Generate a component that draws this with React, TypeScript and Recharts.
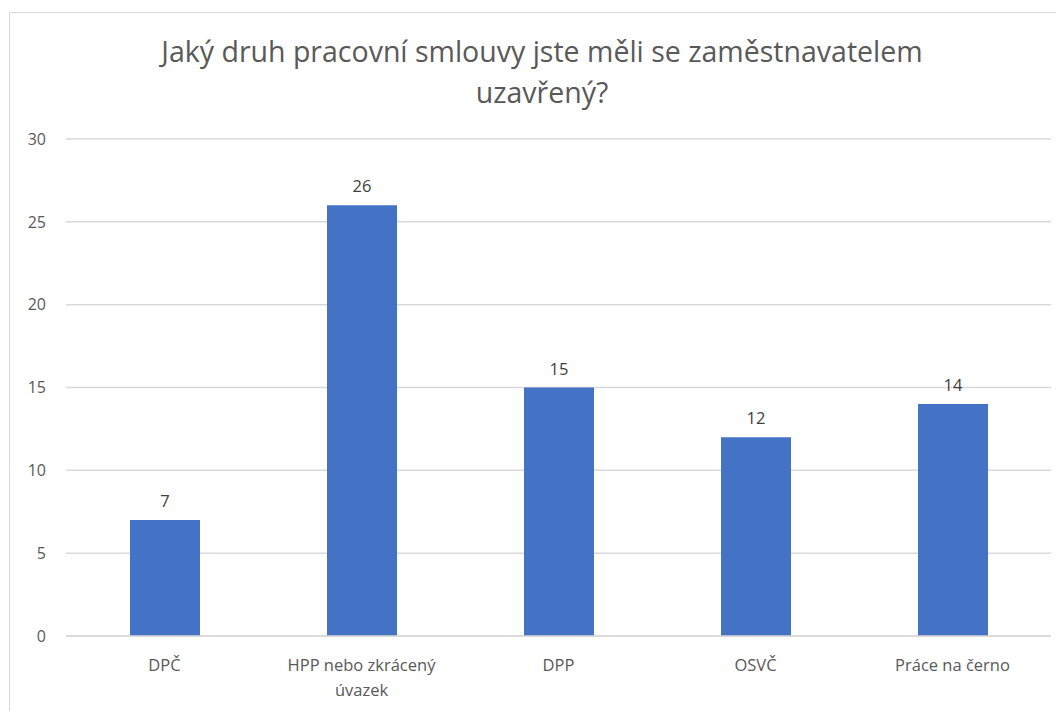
import { BarChart, Bar, XAxis, YAxis, CartesianGrid, LabelList, Text } from 'recharts';

const TITLE_LINES = ['Jaký druh pracovní smlouvy jste měli se zaměstnavatelem', 'uzavřený?'];
const CATEGORIES = ['DPČ', 'HPP nebo zkrácený úvazek', 'DPP', 'OSVČ', 'Práce na černo'];
const COUNTS = [7, 26, 15, 12, 14];
const Y_TICKS = [0, 5, 10, 15, 20, 25, 30];

const FONT = '"Open Sans", "Noto Sans", sans-serif';
const TEXT_COLOR = '#595959';
const GRID_COLOR = '#d9d9d9';
const BAR_COLOR = '#4472C4';

const data = CATEGORIES.map((name, i) => ({ name, value: COUNTS[i] }));

function CategoryTick(props: any) {
  const { x, y, payload } = props;
  return (
    <Text
      x={x}
      y={y + 15}
      width={168}
      textAnchor="middle"
      verticalAnchor="start"
      lineHeight={25}
      fill={TEXT_COLOR}
      fontSize={16.5}
      fontFamily={FONT}
    >
      {payload.value}
    </Text>
  );
}

export default function App() {
  return (
    <div style={{ position: 'relative', width: 1056, height: 703, overflow: 'hidden', background: '#fff' }}>
      <div
        style={{
          position: 'absolute',
          left: 1,
          top: 4,
          width: 1100,
          height: 800,
          border: `1.5px solid ${GRID_COLOR}`,
          boxSizing: 'border-box',
        }}
      />
      <div
        style={{
          position: 'absolute',
          left: 0,
          top: 23,
          width: 1068,
          textAlign: 'center',
          fontFamily: FONT,
          fontSize: 28.5,
          lineHeight: '41px',
          color: TEXT_COLOR,
        }}
      >
        {TITLE_LINES.map((line) => (
          <div key={line}>{line}</div>
        ))}
      </div>
      <div style={{ position: 'absolute', left: 0, top: 0 }}>
        <BarChart
          width={1056}
          height={703}
          data={data}
          margin={{ top: 131, right: 13, left: 18, bottom: 15 }}
        >
          <CartesianGrid vertical={false} stroke={GRID_COLOR} strokeWidth={1.5} />
          <XAxis
            dataKey="name"
            axisLine={{ stroke: GRID_COLOR, strokeWidth: 1.5 }}
            tickLine={false}
            height={60}
            interval={0}
            tick={<CategoryTick />}
          />
          <YAxis
            domain={[0, 30]}
            ticks={Y_TICKS}
            width={40}
            axisLine={false}
            tickLine={false}
            tickSize={0}
            tickMargin={20}
            tick={{ fill: TEXT_COLOR, fontSize: 16, fontFamily: FONT }}
          />
          <Bar dataKey="value" fill={BAR_COLOR} barSize={70} isAnimationActive={false}>
            <LabelList
              dataKey="value"
              position="top"
              offset={13}
              fill="#404040"
              fontSize={16.5}
              fontFamily={FONT}
            />
          </Bar>
        </BarChart>
      </div>
    </div>
  );
}
